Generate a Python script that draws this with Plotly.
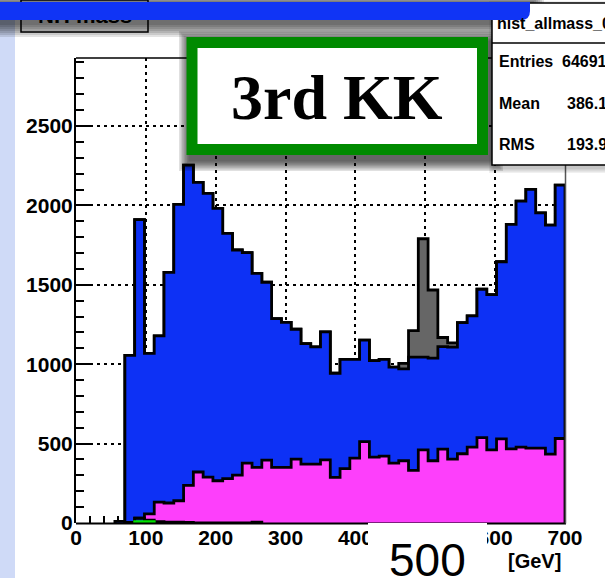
import numpy as np
import plotly.graph_objects as go

# ---- histogram binning: 50 bins of 14 GeV between 0 and 700 GeV ----
x_min, x_max, n_bins = 0, 700, 50

# ---- per-bin counts of each stacked component (bottom to top) ----
green_counts = [0] * 6 + [8, 8] + [0] * 42
dark_counts = [0, 0, 0, 0, 0, 4, 22, 10, 8, 6, 6, 4, 0, 0, 0, 0, 0, 0, 6] + [0] * 31
magenta_counts = [0, 0, 0, 0, 0, 0, 0, 40, 124, 120,
                  134, 233, 321, 289, 266, 279, 302, 377, 344, 396,
                  350, 350, 402, 371, 371, 398, 287, 342, 409, 513,
                  415, 421, 377, 392, 331, 461, 392, 465, 402, 436,
                  478, 538, 461, 530, 467, 478, 472, 472, 434, 532]
blue_counts = [0, 0, 0, 0, 10, 1051, 1880, 1010, 1046, 1452,
               1866, 2016, 1824, 1786, 1715, 1545, 1417, 1325, 1222, 1120,
               937, 913, 818, 759, 738, 805, 656, 688, 621, 638,
               608, 609, 605, 578, 713, 583, 646, 646, 705, 826,
               826, 934, 977, 1115, 1413, 1549, 1629, 1481, 1442, 1596]
gray_counts = [0] * 33 + [35, 167, 746, 429, 57, 27] + [0] * 11

# ---- axis ticks and labels ----
x_ticks = [0, 100, 200, 300, 400, 500, 600, 700]
y_ticks = [0, 500, 1000, 1500, 2000, 2500]
y_top = 2928

# ---- statistics box ----
stats_title = "hist_allmass_0"
stats_rows = [("Entries", "64691"), ("Mean", "386.1"), ("RMS", "193.9")]

BLUE = "#0d31f5"
MAGENTA = "#fd3ffb"
GRAY = "#666666"
GREEN_FILL = "#00e000"
BAR_BLUE = "#1034f5"
FRAME_GREEN = "#008a00"
LAVENDER = "#cfdaf7"

edges = np.linspace(x_min, x_max, n_bins + 1)

# cumulative stack heights
layers = np.cumsum(np.array([green_counts, dark_counts, magenta_counts,
                             blue_counts, gray_counts], dtype=float), axis=0)


def step_outline(tops):
    """Closed step outline of a histogram (hv steps, dropping to zero at the ends)."""
    nz = np.nonzero(tops)[0]
    i0, i1 = nz[0], nz[-1] + 1
    xs = [edges[i0]] + list(edges[i0:i1]) + [edges[i1], edges[i1]]
    ys = [0.0] + list(tops[i0:i1]) + [tops[i1 - 1], 0.0]
    return xs, ys


fig = go.Figure()

# draw from the tallest cumulative layer down so lower layers sit on top
styles = [
    (layers[4], GRAY, "black"),
    (layers[3], BLUE, "black"),
    (layers[2], MAGENTA, "black"),
    (layers[1], BLUE, "black"),
    (layers[0], GREEN_FILL, GREEN_FILL),
]
for tops, fill, lc in styles:
    xs, ys = step_outline(tops)
    fig.add_trace(go.Scatter(
        x=xs, y=ys, mode="lines", line=dict(shape="hv", color=lc, width=2.8),
        fill="tozeroy", fillcolor=fill, hoverinfo="skip", showlegend=False))

L, T, W, H = 76, 58, 489, 465  # plot area in pixels


def PX(px):
    return (px - L) / W


def PY(py):
    return (T + H - py) / H


def rect(x0, y0, x1, y1, **kw):
    d = dict(type="rect", xref="paper", yref="paper", layer="above",
             x0=PX(x0), x1=PX(x1), y0=PY(y1), y1=PY(y0))
    d.update(kw)
    return d


def soft_shadow(x0, y0, x1, y1, dx, dy, spread, n, alpha):
    out = []
    for k in range(n):
        s = spread * (k + 1) / n
        out.append(rect(x0 + dx - s, y0 + dy - s, x1 + dx + s, y1 + dy + s,
                        fillcolor=f"rgba(0,0,0,{alpha})", line_width=0))
    return out


def hline(x0, x1, y, color="black", width=2):
    return dict(type="line", xref="paper", yref="paper", layer="above",
                x0=PX(x0), x1=PX(x1), y0=PY(y), y1=PY(y),
                line=dict(color=color, width=width))


def vline(x, y0, y1, color="black", width=2):
    return dict(type="line", xref="paper", yref="paper", layer="above",
                x0=PX(x), x1=PX(x), y0=PY(y0), y1=PY(y1),
                line=dict(color=color, width=width))


shapes = []
# frame lines
shapes.append(hline(76, 566, 523.5, width=2))
shapes.append(hline(76, 566, 58, width=1.5))
shapes.append(vline(565.5, 58, 523.5, color="#555555", width=1.5))
# slide decorations
shapes.append(rect(0, 20, 15, 578, fillcolor=LAVENDER, line_width=0))
shapes.append(rect(21, 0, 148, 32, fillcolor="white", line=dict(color="black", width=1.5)))
shapes += soft_shadow(0, 2, 530, 20, 0, 3, 14, 7, 0.11)
shapes += soft_shadow(186, 37, 488, 155, 4, 5, 11, 7, 0.12)
shapes.append(rect(192, 42.5, 482.5, 149.5, fillcolor="white",
                   line=dict(color=FRAME_GREEN, width=11)))
shapes += soft_shadow(492, 3, 620, 165, 2, 3, 5, 4, 0.06)
shapes.append(rect(492, 3, 620, 165, fillcolor="white", line=dict(color="black", width=1.5)))
shapes.append(hline(492, 620, 43, width=1.5))
shapes.append(dict(type="path", xref="paper", yref="paper", layer="above",
                   path=(f"M {PX(0)},{PY(2)} L {PX(530)},{PY(2)} L {PX(530)},{PY(11)} "
                         f"Q {PX(530)},{PY(20)} {PX(521)},{PY(20)} L {PX(0)},{PY(20)} Z"),
                   fillcolor=BAR_BLUE, line_width=0))
shapes.append(rect(368, 523, 487, 580, fillcolor="white", line_width=0))

ROOT_FONT = dict(family="Liberation Sans", color="black", weight="bold")

annotations = []


def text(s, px, py, size, xanchor="center", family="Liberation Sans", weight="bold", **kw):
    d = dict(text=s, xref="paper", yref="paper", x=PX(px), y=PY(py), xanchor=xanchor,
             yanchor="middle", showarrow=False,
             font=dict(family=family, size=size, color="black", weight=weight))
    d.update(kw)
    annotations.append(d)


text("NH mass", 85, 16, 22)
text(stats_title, 495, 23, 16, xanchor="left")
# blue title bar lies over the top of the labels below it
annotations.append(dict(text=" ", xref="paper", yref="paper", x=PX(0), y=PY(2),
                        xanchor="left", yanchor="top", width=521, height=18,
                        bgcolor=BAR_BLUE, borderpad=0, borderwidth=0, showarrow=False))
text("3rd KK", 337, 97, 64, family="Liberation Serif")
for (name, val), py in zip(stats_rows, [62, 104, 144]):
    text(name, 497, py, 16, xanchor="left")
    text(val, 609, py, 16, xanchor="right")
text("[GeV]", 563, 561, 20, xanchor="right")
text("500", 427, 560, 46, weight="normal")

grid = dict(showgrid=True, gridcolor="black", gridwidth=2, griddash="3px,4px")

fig.update_layout(
    width=605, height=578,
    margin=dict(l=L, r=605 - L - W, t=T, b=578 - T - H, pad=0),
    paper_bgcolor="white", plot_bgcolor="white",
    showlegend=False,
    shapes=shapes, annotations=annotations,
    xaxis=dict(range=[x_min, x_max], tickvals=x_ticks, ticks="inside", ticklen=15,
               tickwidth=2, tickcolor="black", layer="below traces",
               minor=dict(dtick=20, tick0=0, ticks="inside", ticklen=7, tickwidth=2,
                          tickcolor="black", showgrid=False),
               showline=False, zeroline=False, tickfont=dict(size=21, **ROOT_FONT),
               **grid),
    yaxis=dict(range=[0, y_top], tickvals=y_ticks, ticks="inside", ticklen=15,
               tickwidth=2, tickcolor="black", layer="below traces",
               minor=dict(dtick=100, tick0=0, ticks="inside", ticklen=8, tickwidth=2,
                          tickcolor="black", showgrid=False),
               showline=True, linecolor="black", linewidth=2, zeroline=False,
               ticklabelstandoff=-3,
               tickfont=dict(size=21, **ROOT_FONT), **grid),
)

fig.write_html("out.html")
